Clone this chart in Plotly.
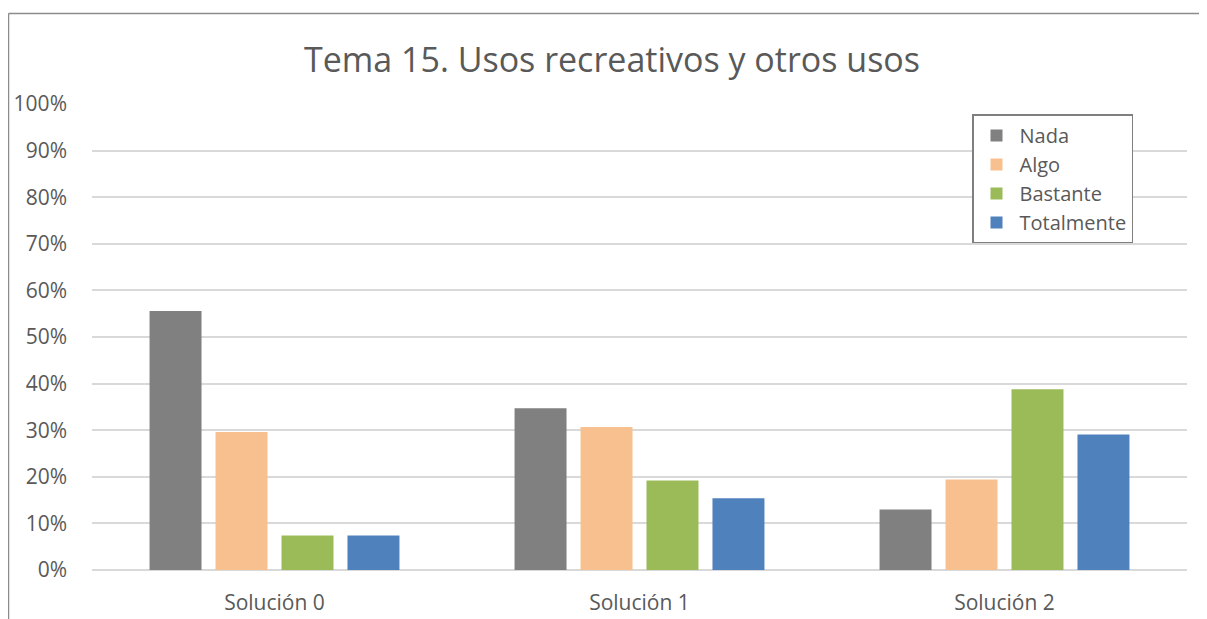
import plotly.graph_objects as go

categories = ["Solución 0", "Solución 1", "Solución 2"]
series_names = ["Nada", "Algo", "Bastante", "Totalmente"]
nada = [0.556, 0.347, 0.130]
algo = [0.296, 0.307, 0.194]
bastante = [0.074, 0.192, 0.388]
totalmente = [0.074, 0.154, 0.291]
y_ticks = [0, 0.1, 0.2, 0.3, 0.4, 0.5, 0.6, 0.7, 0.8, 0.9, 1.0]

colors = ["#808080", "#F8C08F", "#9BBB59", "#4F81BD"]
values = [nada, algo, bastante, totalmente]

# page has an 8px body margin; work in figure pixel coords (page - 8)
OFF = 8
W, H = 1207 - OFF, 619 - OFF
L, R = 92 - OFF, 1187 - OFF
T, B = 103.5 - OFF, 569.7 - OFF

fig = go.Figure()
for name, vals, col in zip(series_names, values, colors):
    fig.add_trace(go.Bar(x=categories, y=vals, name=name,
                         marker=dict(color=col, line=dict(width=0))))

def px_x(px):
    return (px - OFF - L) / (R - L)

def px_y(py):
    return (B - (py - OFF)) / (B - T)

font_fam = "Open Sans, Noto Sans, sans-serif"
fig.update_layout(
    width=W, height=H,
    margin=dict(l=L, r=W - R, t=T, b=H - B, pad=0, autoexpand=False),
    paper_bgcolor="white", plot_bgcolor="white",
    barmode="group", bargap=0.277, bargroupgap=0.212,
    font=dict(family=font_fam, color="#595959", size=21),
    title=dict(text="Tema 15. Usos recreativos y otros usos",
               x=(612 - OFF) / W, xref="container", xanchor="center",
               y=1 - (60 - OFF) / H, yref="container", yanchor="middle",
               font=dict(size=34, color="#595959", family=font_fam)),
    legend=dict(x=px_x(972), y=px_y(114), xanchor="left", yanchor="top",
                bordercolor="#7F7F7F", borderwidth=1.5, bgcolor="white",
                font=dict(size=20, color="#595959"),
                tracegroupgap=0, itemwidth=36),
    showlegend=True,
)
fig.update_yaxes(range=[0, 1], tickvals=y_ticks, tickformat=".0%",
                 showgrid=True, gridcolor="#D9D9D9", gridwidth=1.5,
                 zeroline=True, zerolinecolor="#D9D9D9", zerolinewidth=1.5,
                 showline=False, ticks="", ticklabelstandoff=24,
                 automargin=False,
                 tickfont=dict(size=21, color="#595959"), fixedrange=True)
fig.update_xaxes(showgrid=False, showline=False, ticks="",
                 ticklabelstandoff=18, automargin=False,
                 tickfont=dict(size=21, color="#595959"), fixedrange=True)

# chart frame (top and left edges visible in reference)
fig.add_shape(type="line", xref="paper", yref="paper",
              x0=px_x(8.5), x1=px_x(1207), y0=px_y(13), y1=px_y(13),
              line=dict(color="#8C8C8C", width=1.5))
fig.add_shape(type="line", xref="paper", yref="paper",
              x0=px_x(8.5), x1=px_x(8.5), y0=px_y(13), y1=px_y(619),
              line=dict(color="#8C8C8C", width=1.5))

fig.write_html("out.html")
